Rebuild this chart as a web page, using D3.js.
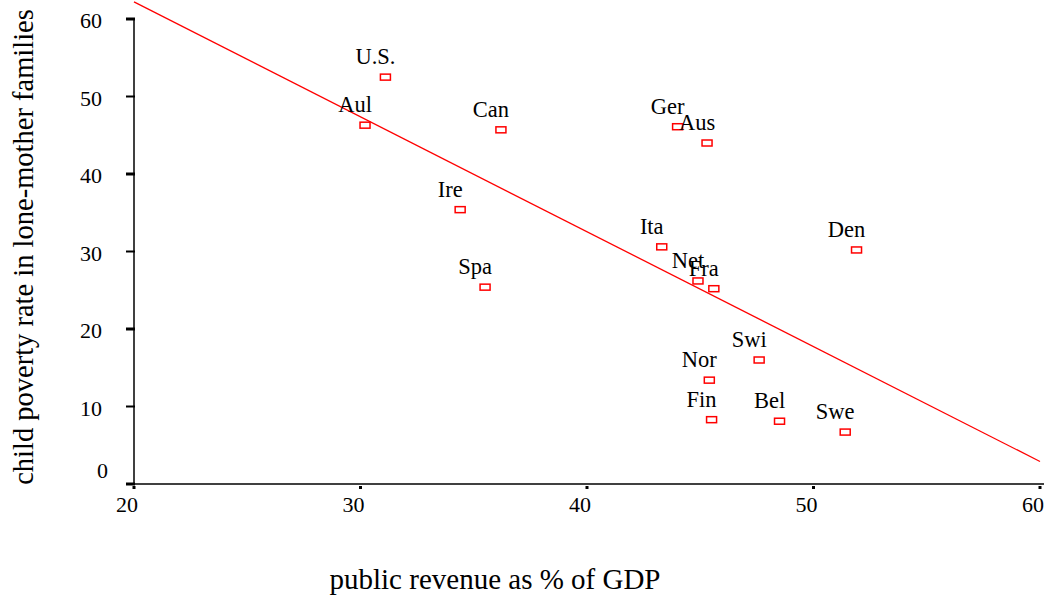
<!DOCTYPE html>
<html>
<head>
<meta charset="utf-8">
<script src="https://cdn.jsdelivr.net/npm/d3@7"></script>
<style>
  body { margin: 0; background: #fff; }
  text { font-family: "Liberation Serif", "Times New Roman", serif; }
</style>
</head>
<body>
<div id="plot-container"></div>
<script>
// Data
const countries = ["U.S.", "Aul", "Can", "Ger", "Aus", "Ire", "Spa", "Ita", "Net", "Fra", "Den", "Swi", "Nor", "Fin", "Bel", "Swe"];
const revenue = [31.1, 30.2, 36.2, 44.0, 45.3, 34.4, 35.5, 43.3, 44.9, 45.6, 51.9, 47.6, 45.4, 45.5, 48.5, 51.4];
const poverty = [52.5, 46.3, 45.7, 46.1, 44.0, 35.4, 25.4, 30.6, 26.2, 25.2, 30.2, 16.0, 13.4, 8.3, 8.1, 6.7];
const fitLine = [[20, 62.2], [60, 2.9]];
const xTicks = [20, 30, 40, 50, 60];
const yTicks = [0, 10, 20, 30, 40, 50, 60];

const W = 1051, H = 595;
const margin = { top: 19, right: 11, bottom: 111, left: 134 };
const width = W - margin.left - margin.right;
const height = H - margin.top - margin.bottom;

const svg = d3.select("#plot-container")
  .append("svg")
  .attr("width", W)
  .attr("height", H)
  .append("g")
  .attr("transform", "translate(" + margin.left + "," + margin.top + ")");

const x = d3.scaleLinear().domain([20, 60]).range([0, 906]);
const y = d3.scaleLinear().domain([0, 60]).range([height, 0]);

// axis lines
svg.append("line")
  .attr("x1", 0).attr("x2", 0)
  .attr("y1", 0).attr("y2", height)
  .attr("stroke", "#000").attr("stroke-width", 1.5);
svg.append("line")
  .attr("x1", 0).attr("x2", 910)
  .attr("y1", height).attr("y2", height)
  .attr("stroke", "#000").attr("stroke-width", 1.5);

// y ticks
svg.selectAll(".ytick")
  .data(yTicks)
  .enter().append("line")
  .attr("x1", -8).attr("x2", 1)
  .attr("y1", d => y(d)).attr("y2", d => y(d))
  .attr("stroke", "#000")
  .attr("stroke-width", d => d % 20 === 0 ? 3 : 2);

svg.selectAll(".ylab")
  .data(yTicks)
  .enter().append("text")
  .attr("x", d => d === 0 ? -26 : -32)
  .attr("y", d => y(d) + (d === 0 ? -6 : 9))
  .attr("text-anchor", "end")
  .style("font-size", "22px")
  .text(d => d);

// x ticks
svg.selectAll(".xtick")
  .data(xTicks)
  .enter().append("rect")
  .attr("x", d => x(d) - 1.5)
  .attr("y", height + 2)
  .attr("width", 3)
  .attr("height", 3)
  .attr("fill", "#000");

svg.selectAll(".xlab")
  .data(xTicks)
  .enter().append("text")
  .attr("x", d => x(d) - 7)
  .attr("y", height + 28)
  .attr("text-anchor", "middle")
  .style("font-size", "22px")
  .text(d => d);

// regression line
svg.append("line")
  .attr("x1", x(fitLine[0][0])).attr("y1", y(fitLine[0][1]))
  .attr("x2", x(fitLine[1][0])).attr("y2", y(fitLine[1][1]))
  .attr("stroke", "#f00").attr("stroke-width", 1.3);

// points
const pts = countries.map((c, i) => ({ name: c, rev: revenue[i], pov: poverty[i] }));

svg.selectAll(".pt")
  .data(pts)
  .enter().append("rect")
  .attr("x", d => x(d.rev) - 5)
  .attr("y", d => y(d.pov) - 3)
  .attr("width", 10)
  .attr("height", 6)
  .attr("fill", "#fff")
  .attr("stroke", "#f00")
  .attr("stroke-width", 1.5);

svg.selectAll(".lab")
  .data(pts)
  .enter().append("text")
  .attr("x", d => x(d.rev) - 10)
  .attr("y", d => y(d.pov) - 13)
  .attr("text-anchor", "middle")
  .style("font-size", "22.5px")
  .text(d => d.name);

// axis titles
svg.append("text")
  .attr("x", 361)
  .attr("y", height + 105)
  .attr("text-anchor", "middle")
  .style("font-size", "29px")
  .text("public revenue as % of GDP");

svg.append("text")
  .attr("transform", "rotate(-90)")
  .attr("x", -228)
  .attr("y", -101)
  .attr("text-anchor", "middle")
  .style("font-size", "28.5px")
  .text("child poverty rate in lone-mother families");
</script>
</body>
</html>
